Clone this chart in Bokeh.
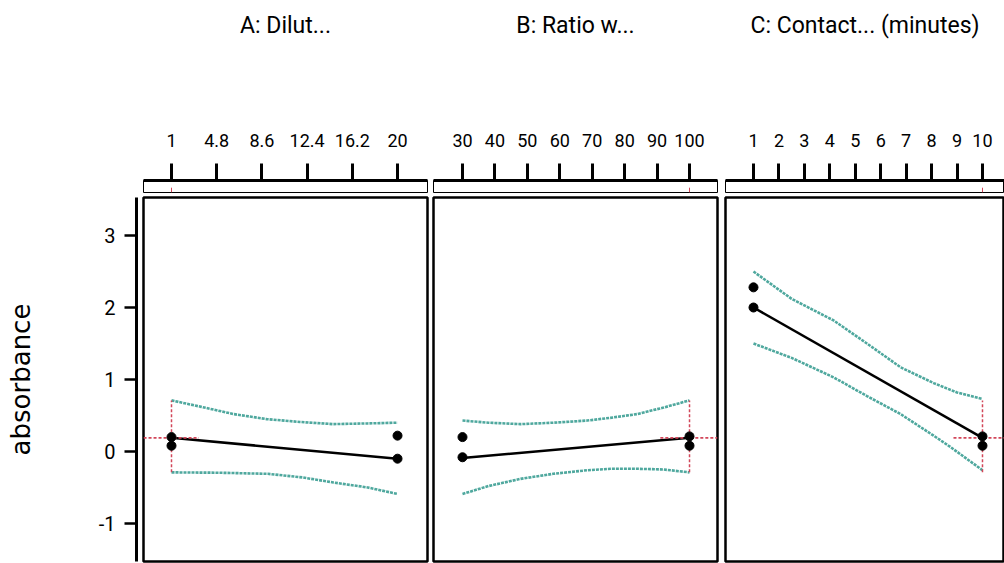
from bokeh.plotting import figure
from bokeh.layouts import row, column
from bokeh.models import Range1d, FixedTicker
from bokeh.embed import file_html
from bokeh.resources import INLINE

# ---------------- data ----------------
factor_titles = ["A: Dilut...", "B: Ratio w...", "C: Contact... (minutes)"]
y_label = "absorbance"

a_ticks = [1, 4.8, 8.6, 12.4, 16.2, 20]
a_tick_labels = ["1", "4.8", "8.6", "12.4", "16.2", "20"]
b_ticks = [30, 40, 50, 60, 70, 80, 90, 100]
b_tick_labels = ["30", "40", "50", "60", "70", "80", "90", "100"]
c_ticks = [1, 2, 3, 4, 5, 6, 7, 8, 9, 10]
c_tick_labels = ["1", "2", "3", "4", "5", "6", "7", "8", "9", "10"]
y_ticks = [-1, 0, 1, 2, 3]
y_tick_labels = ["-1", "0", "1", "2", "3"]

current_settings = [1, 100, 10]
current_pred = 0.19
current_ci = [-0.29, 0.71]

# factor A
a_line_x = [1, 20]
a_line_y = [0.19, -0.10]
a_pts_x = [1, 1, 20, 20]
a_pts_y = [0.20, 0.08, 0.22, -0.10]
a_upper_x = [1, 3.5, 6.2, 9.0, 11.8, 14.6, 17.5, 20]
a_upper_y = [0.71, 0.62, 0.52, 0.45, 0.41, 0.38, 0.39, 0.40]
a_lower_x = [1, 5, 9.1, 12, 14.6, 17.5, 20]
a_lower_y = [-0.29, -0.295, -0.31, -0.36, -0.43, -0.50, -0.59]
a_ref_x = [-1.35, 3.3]

# factor B
b_line_x = [30, 100]
b_line_y = [-0.09, 0.19]
b_pts_x = [30, 30, 100, 100]
b_pts_y = [0.20, -0.08, 0.21, 0.08]
b_upper_x = [30, 38, 47.9, 58, 68.5, 76, 83.9, 92, 100]
b_upper_y = [0.43, 0.40, 0.38, 0.40, 0.43, 0.47, 0.52, 0.61, 0.71]
b_lower_x = [30, 38, 47.9, 58, 68.5, 76, 83.9, 92, 100]
b_lower_y = [-0.59, -0.48, -0.38, -0.31, -0.26, -0.24, -0.24, -0.25, -0.29]
b_ref_x = [91, 108.6]

# factor C
c_line_x = [1, 10]
c_line_y = [2.00, 0.19]
c_pts_x = [1, 1, 10, 10]
c_pts_y = [2.28, 2.00, 0.21, 0.08]
c_upper_x = [1, 2.5, 4.15, 5.46, 6.78, 8.08, 9.0, 10]
c_upper_y = [2.50, 2.12, 1.82, 1.50, 1.17, 0.95, 0.82, 0.73]
c_lower_x = [1, 2.5, 4.15, 5.46, 6.78, 8.08, 8.75, 10]
c_lower_y = [1.50, 1.30, 1.03, 0.77, 0.52, 0.22, 0.06, -0.26]
c_ref_x = [8.86, 10.9]

# ---------------- styling ----------------
FONT = "Roboto"
TEAL = "#4fa89e"
RED = "#d2475a"

y_range = Range1d(-1.528, 3.528)
x_ranges = [Range1d(-1.354, 22.52), Range1d(21.06, 108.63), Range1d(-0.10, 10.865)]
col_widths = [289, 292, 282]
col_left = [2, 3, 3]
col_right = [3, 5, 0]

ticks_all = [a_ticks, b_ticks, c_ticks]
labels_all = [a_tick_labels, b_tick_labels, c_tick_labels]
series = [
    (a_line_x, a_line_y, a_pts_x, a_pts_y, a_upper_x, a_upper_y, a_lower_x, a_lower_y, a_ref_x),
    (b_line_x, b_line_y, b_pts_x, b_pts_y, b_upper_x, b_upper_y, b_lower_x, b_lower_y, b_ref_x),
    (c_line_x, c_line_y, c_pts_x, c_pts_y, c_upper_x, c_upper_y, c_lower_x, c_lower_y, c_ref_x),
]


def clean(p):
    p.grid.visible = False
    p.background_fill_color = "white"
    p.border_fill_color = "white"


# left axis figure
axis_fig = figure(width=141, height=563, x_range=Range1d(0, 1), y_range=y_range,
                  output_backend="svg", toolbar_location=None,
                  x_axis_location=None, y_axis_location="left",
                  min_border_left=136, min_border_right=0,
                  min_border_top=197, min_border_bottom=2)
clean(axis_fig)
axis_fig.outline_line_color = None
ya = axis_fig.yaxis[0]
ya.ticker = FixedTicker(ticks=y_ticks)
ya.major_label_overrides = {t: l for t, l in zip(y_ticks, y_tick_labels)}
ya.minor_tick_line_color = None
ya.axis_line_width = 3
ya.major_tick_line_width = 2.5
ya.major_tick_out = 12
ya.major_tick_in = 0
ya.major_label_standoff = 9
ya.major_label_text_font = FONT
ya.major_label_text_font_size = "20px"
ya.major_label_text_color = "black"
ya.axis_label = y_label
ya.axis_label_text_font = "DejaVu Sans"
ya.axis_label_text_font_size = "26px"
ya.axis_label_text_font_style = "normal"
ya.axis_label_text_color = "black"
ya.axis_label_standoff = 60

columns = []
for i in range(3):
    lx, ly, px, py, ux, uy, lwx, lwy, rx = series[i]
    # strip with top axis
    s = figure(width=col_widths[i], height=193, x_range=x_ranges[i], y_range=Range1d(0, 1),
               output_backend="svg", toolbar_location=None,
               x_axis_location="above", y_axis_location=None,
               min_border_left=col_left[i], min_border_right=col_right[i],
               min_border_top=180, min_border_bottom=1)
    clean(s)
    s.outline_line_color = "black"
    s.outline_line_width = 1
    s.outline_line_alpha = 1
    s.segment(x0=[current_settings[i]], y0=[0.0], x1=[current_settings[i]], y1=[0.4],
              line_color=RED, line_width=1)
    xa = s.xaxis[0]
    xa.ticker = FixedTicker(ticks=ticks_all[i])
    xa.major_label_overrides = {t: l for t, l in zip(ticks_all[i], labels_all[i])}
    xa.minor_tick_line_color = None
    xa.axis_line_width = 3
    xa.major_tick_line_width = 3
    xa.major_tick_out = 17
    xa.major_tick_in = 0
    xa.major_label_standoff = 17
    xa.major_label_text_font = FONT
    xa.major_label_text_font_size = "18px"
    xa.major_label_text_color = "black"
    xa.axis_label = factor_titles[i]
    xa.axis_label_text_font = FONT
    xa.axis_label_text_font_size = "23px"
    xa.axis_label_text_font_style = "normal"
    xa.axis_label_text_color = "black"
    xa.axis_label_standoff = 92

    # main panel
    p = figure(width=col_widths[i], height=370, x_range=x_ranges[i], y_range=y_range,
               output_backend="svg", toolbar_location=None,
               x_axis_location=None, y_axis_location=None,
               min_border_left=col_left[i], min_border_right=col_right[i],
               min_border_top=4, min_border_bottom=2)
    clean(p)
    p.outline_line_color = "black"
    p.outline_line_width = 2.5
    p.outline_line_alpha = 1

    p.line(ux, uy, line_color=TEAL, line_width=2.6, line_dash="3 1")
    p.line(lwx, lwy, line_color=TEAL, line_width=2.6, line_dash="3 1")
    p.line(lx, ly, line_color="black", line_width=2.5)
    p.segment(x0=[current_settings[i]], y0=[current_ci[0]], x1=[current_settings[i]], y1=[current_ci[1]],
              line_color=RED, line_width=1.5, line_dash="3 2")
    p.line(rx, [current_pred, current_pred], line_color=RED, line_width=1.8, line_dash="3 2")
    p.scatter(px, py, size=9, color="black")

    columns.append(column(s, p, spacing=0))

layout = row(axis_fig, *columns, spacing=0)

open("out.html", "w").write(file_html(layout, INLINE))
